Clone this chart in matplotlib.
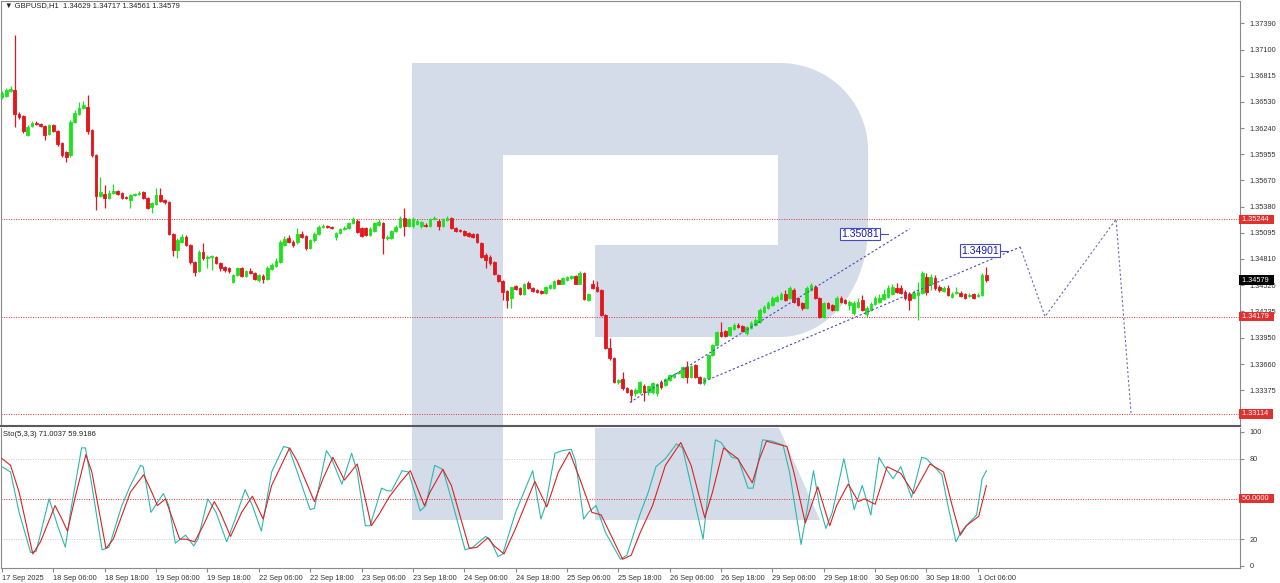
import numpy as np
import matplotlib
matplotlib.use("Agg")
import matplotlib.pyplot as plt
import matplotlib.transforms as mtransforms
from matplotlib.patches import Polygon, Rectangle

# ---------------------------------------------------------------------------
# GBPUSD H1 candles (bar 0 = 17 Sep 18:00)
# ---------------------------------------------------------------------------
opens = [
    1.3658, 1.3659, 1.3665, 1.3666, 1.3639, 1.3637, 1.3617, 1.3626, 1.3630, 1.3629,
    1.3626, 1.3618, 1.3627, 1.3621, 1.3608, 1.3598, 1.3595, 1.3631, 1.3639, 1.3646,
    1.3647, 1.3622, 1.3595, 1.3550, 1.3552, 1.3548, 1.3553, 1.3555, 1.3553, 1.3549,
    1.3545, 1.3551, 1.3552, 1.3554, 1.3548, 1.3538, 1.3541, 1.3551, 1.3545, 1.3543,
    1.3508, 1.3491, 1.3499, 1.3505, 1.3496, 1.3478, 1.3468, 1.3489, 1.3482, 1.3483,
    1.3483, 1.3477, 1.3472, 1.3471, 1.3456, 1.3463, 1.3471, 1.3462, 1.3468, 1.3466,
    1.3458, 1.3462, 1.3459, 1.3470, 1.3473, 1.3478, 1.3496, 1.3504, 1.3499, 1.3499,
    1.3508, 1.3506, 1.3493, 1.3502, 1.3508, 1.3516, 1.3517, 1.3516, 1.3505, 1.3509,
    1.3514, 1.3515, 1.3520, 1.3522, 1.3515, 1.3515, 1.3507, 1.3511, 1.3518, 1.3520,
    1.3504, 1.3504, 1.3512, 1.3516, 1.3526, 1.3517, 1.3517, 1.3519, 1.3517, 1.3518,
    1.3517, 1.3525, 1.3522, 1.3517, 1.3524, 1.3526, 1.3515, 1.3513, 1.3512, 1.3509,
    1.3508, 1.3508, 1.3498, 1.3485, 1.3483, 1.3478, 1.3463, 1.3457, 1.3446, 1.3438,
    1.3451, 1.3449, 1.3443, 1.3455, 1.3449, 1.3447, 1.3446, 1.3444, 1.3449, 1.3449,
    1.3458, 1.3454, 1.3458, 1.3460, 1.3462, 1.3454, 1.3466, 1.3436, 1.3453, 1.3450,
    1.3447, 1.3420, 1.3383, 1.3373, 1.3346, 1.3350, 1.3340, 1.3338, 1.3334, 1.3335,
    1.3342, 1.3335, 1.3335, 1.3334, 1.3346, 1.3343, 1.3348, 1.3352, 1.3356, 1.3352,
    1.3363, 1.3352, 1.3365, 1.3352, 1.3345, 1.3351, 1.3376, 1.3387, 1.3401, 1.3402,
    1.3398, 1.3404, 1.3409, 1.3408, 1.3400, 1.3405, 1.3409, 1.3412, 1.3423, 1.3427,
    1.3431, 1.3435, 1.3437, 1.3443, 1.3438, 1.3447, 1.3438, 1.3433, 1.3427, 1.3447,
    1.3450, 1.3438, 1.3417, 1.3433, 1.3431, 1.3425, 1.3438, 1.3436, 1.3431, 1.3422,
    1.3428, 1.3436, 1.3421, 1.3425, 1.3432, 1.3434, 1.3437, 1.3439, 1.3443, 1.3449,
    1.3449, 1.3445, 1.3443, 1.3438, 1.3441, 1.3444, 1.3461, 1.3453, 1.3460, 1.3450,
    1.3446, 1.3449, 1.3439, 1.3444, 1.3444, 1.3443, 1.3440, 1.3443, 1.3440, 1.3441,
    1.34629,
]
highs = [
    1.3665, 1.3668, 1.3670, 1.3726, 1.3642, 1.3638, 1.3627, 1.3632, 1.3632, 1.3630,
    1.3627, 1.3629, 1.3629, 1.3622, 1.3609, 1.3599, 1.3633, 1.3644, 1.3653, 1.3654,
    1.3660, 1.3623, 1.3596, 1.3571, 1.3562, 1.3556, 1.3563, 1.3556, 1.3554, 1.3550,
    1.3552, 1.3553, 1.3555, 1.3555, 1.3549, 1.3543, 1.3558, 1.3558, 1.3546, 1.3544,
    1.3509, 1.3504, 1.3508, 1.3507, 1.3497, 1.3479, 1.3491, 1.3498, 1.3485, 1.3485,
    1.3484, 1.3478, 1.3473, 1.3472, 1.3464, 1.3472, 1.3472, 1.3469, 1.3471, 1.3467,
    1.3464, 1.3464, 1.3473, 1.3477, 1.3482, 1.3502, 1.3506, 1.3507, 1.3502, 1.3515,
    1.3512, 1.3507, 1.3503, 1.3510, 1.3518, 1.3519, 1.3518, 1.3517, 1.3510, 1.3515,
    1.3517, 1.3521, 1.3527, 1.3525, 1.3516, 1.3516, 1.3516, 1.3521, 1.3525, 1.3521,
    1.3507, 1.3513, 1.3518, 1.3528, 1.3537, 1.3526, 1.3527, 1.3525, 1.3522, 1.3520,
    1.3526, 1.3528, 1.3525, 1.3526, 1.3528, 1.3527, 1.3516, 1.3514, 1.3513, 1.3510,
    1.3509, 1.3509, 1.3499, 1.3487, 1.3485, 1.3479, 1.3465, 1.3458, 1.3447, 1.3450,
    1.3452, 1.3450, 1.3455, 1.3457, 1.3450, 1.3448, 1.3447, 1.3451, 1.3453, 1.3458,
    1.3459, 1.3461, 1.3462, 1.3463, 1.3463, 1.3468, 1.3467, 1.3444, 1.3458, 1.3457,
    1.3448, 1.3421, 1.3394, 1.3374, 1.3350, 1.3357, 1.3341, 1.3339, 1.3340, 1.3347,
    1.3344, 1.3342, 1.3346, 1.3345, 1.3348, 1.3351, 1.3355, 1.3356, 1.3357, 1.3364,
    1.3369, 1.3365, 1.3366, 1.3353, 1.3352, 1.3377, 1.3388, 1.3402, 1.3412, 1.3403,
    1.3407, 1.3411, 1.3411, 1.3409, 1.3408, 1.3413, 1.3416, 1.3427, 1.3431, 1.3435,
    1.3440, 1.3441, 1.3445, 1.3447, 1.3451, 1.3449, 1.3439, 1.3434, 1.3451, 1.3455,
    1.3452, 1.3439, 1.3434, 1.3434, 1.3432, 1.3440, 1.3440, 1.3437, 1.3436, 1.3435,
    1.3438, 1.3441, 1.3429, 1.3434, 1.3440, 1.3443, 1.3448, 1.3452, 1.3453, 1.3455,
    1.3452, 1.3447, 1.3445, 1.3447, 1.3456, 1.3468, 1.3466, 1.3464, 1.3463, 1.3452,
    1.3451, 1.3452, 1.3445, 1.3450, 1.3446, 1.3444, 1.3444, 1.3444, 1.3444, 1.3466,
    1.34717,
]
lows = [
    1.3656, 1.3658, 1.3664, 1.3625, 1.3634, 1.3619, 1.3615, 1.3625, 1.3627, 1.3625,
    1.3611, 1.3617, 1.3620, 1.3604, 1.3592, 1.3587, 1.3592, 1.3630, 1.3638, 1.3645,
    1.3618, 1.3592, 1.3535, 1.3549, 1.3537, 1.3547, 1.3552, 1.3551, 1.3547, 1.3547,
    1.3537, 1.3550, 1.3551, 1.3547, 1.3536, 1.3531, 1.3540, 1.3543, 1.3541, 1.3507,
    1.3484, 1.3482, 1.3498, 1.3495, 1.3475, 1.3462, 1.3467, 1.3480, 1.3471, 1.3469,
    1.3475, 1.3468, 1.3467, 1.3466, 1.3455, 1.3462, 1.3461, 1.3461, 1.3464, 1.3458,
    1.3456, 1.3455, 1.3458, 1.3469, 1.3472, 1.3477, 1.3495, 1.3498, 1.3494, 1.3497,
    1.3504, 1.3491, 1.3492, 1.3500, 1.3507, 1.3515, 1.3515, 1.3514, 1.3502, 1.3508,
    1.3513, 1.3514, 1.3519, 1.3509, 1.3505, 1.3506, 1.3506, 1.3510, 1.3517, 1.3486,
    1.3502, 1.3503, 1.3510, 1.3515, 1.3506, 1.3516, 1.3515, 1.3518, 1.3515, 1.3516,
    1.3516, 1.3524, 1.3513, 1.3516, 1.3522, 1.3514, 1.3510, 1.3510, 1.3506, 1.3505,
    1.3504, 1.3498, 1.3482, 1.3471, 1.3474, 1.3463, 1.3456, 1.3436, 1.3427, 1.3427,
    1.3447, 1.3442, 1.3442, 1.3448, 1.3445, 1.3444, 1.3443, 1.3443, 1.3448, 1.3448,
    1.3453, 1.3453, 1.3457, 1.3459, 1.3453, 1.3453, 1.3436, 1.3435, 1.3448, 1.3445,
    1.3418, 1.3382, 1.3370, 1.3345, 1.3344, 1.3338, 1.3334, 1.3324, 1.3331, 1.3333,
    1.3326, 1.3332, 1.3333, 1.3331, 1.3339, 1.3342, 1.3347, 1.3351, 1.3355, 1.3351,
    1.3345, 1.3351, 1.3351, 1.3344, 1.3343, 1.3350, 1.3375, 1.3386, 1.3396, 1.3396,
    1.3397, 1.3403, 1.3405, 1.3401, 1.3398, 1.3404, 1.3408, 1.3411, 1.3422, 1.3426,
    1.3429, 1.3434, 1.3436, 1.3435, 1.3437, 1.3433, 1.3429, 1.3425, 1.3426, 1.3446,
    1.3437, 1.3416, 1.3416, 1.3426, 1.3424, 1.3424, 1.3433, 1.3432, 1.3425, 1.3420,
    1.3427, 1.3424, 1.3417, 1.3424, 1.3431, 1.3433, 1.3436, 1.3438, 1.3442, 1.3444,
    1.3443, 1.3436, 1.3425, 1.3437, 1.3414, 1.3443, 1.3442, 1.3447, 1.3447, 1.3445,
    1.3445, 1.3440, 1.3438, 1.3443, 1.3439, 1.3437, 1.3439, 1.3437, 1.3439, 1.3440,
    1.34561,
]
closes = [
    1.3662, 1.3666, 1.3667, 1.3639, 1.3636, 1.3621, 1.3625, 1.3630, 1.3629, 1.3626,
    1.3617, 1.3627, 1.3621, 1.3607, 1.3595, 1.3592, 1.3631, 1.3641, 1.3646, 1.3649,
    1.3621, 1.3595, 1.3550, 1.3554, 1.3548, 1.3553, 1.3555, 1.3552, 1.3548, 1.3548,
    1.3551, 1.3552, 1.3553, 1.3548, 1.3537, 1.3542, 1.3551, 1.3544, 1.3543, 1.3508,
    1.3491, 1.3502, 1.3505, 1.3496, 1.3478, 1.3467, 1.3489, 1.3482, 1.3483, 1.3484,
    1.3477, 1.3471, 1.3469, 1.3468, 1.3463, 1.3471, 1.3462, 1.3468, 1.3466, 1.3459,
    1.3463, 1.3459, 1.3471, 1.3474, 1.3479, 1.3499, 1.3503, 1.3499, 1.3496, 1.3508,
    1.3505, 1.3493, 1.3502, 1.3508, 1.3516, 1.3517, 1.3516, 1.3515, 1.3509, 1.3514,
    1.3515, 1.3520, 1.3525, 1.3510, 1.3506, 1.3507, 1.3514, 1.3520, 1.3521, 1.3504,
    1.3505, 1.3512, 1.3516, 1.3526, 1.3517, 1.3525, 1.3525, 1.3522, 1.3521, 1.3517,
    1.3525, 1.3526, 1.3517, 1.3525, 1.3526, 1.3515, 1.3512, 1.3512, 1.3507, 1.3506,
    1.3505, 1.3499, 1.3483, 1.3480, 1.3477, 1.3464, 1.3457, 1.3445, 1.3436, 1.3450,
    1.3448, 1.3443, 1.3454, 1.3449, 1.3446, 1.3445, 1.3444, 1.3450, 1.3452, 1.3457,
    1.3454, 1.3460, 1.3461, 1.3462, 1.3454, 1.3466, 1.3437, 1.3443, 1.3449, 1.3446,
    1.3420, 1.3383, 1.3373, 1.3346, 1.3348, 1.3340, 1.3335, 1.3332, 1.3338, 1.3346,
    1.3335, 1.3342, 1.3345, 1.3344, 1.3341, 1.3350, 1.3354, 1.3355, 1.3357, 1.3363,
    1.3352, 1.3364, 1.3352, 1.3345, 1.3351, 1.3376, 1.3387, 1.3401, 1.3397, 1.3397,
    1.3406, 1.3409, 1.3406, 1.3402, 1.3406, 1.3411, 1.3414, 1.3425, 1.3428, 1.3433,
    1.3438, 1.3439, 1.3443, 1.3436, 1.3449, 1.3434, 1.3431, 1.3427, 1.3449, 1.3452,
    1.3438, 1.3417, 1.3433, 1.3427, 1.3425, 1.3438, 1.3434, 1.3433, 1.3434, 1.3433,
    1.3434, 1.3425, 1.3427, 1.3432, 1.3438, 1.3438, 1.3443, 1.3449, 1.3450, 1.3445,
    1.3444, 1.3438, 1.3436, 1.3444, 1.3445, 1.3466, 1.3445, 1.3461, 1.3449, 1.3447,
    1.3449, 1.3441, 1.3443, 1.3445, 1.3440, 1.3438, 1.3441, 1.3438, 1.3441, 1.3463,
    1.34579,
]
assert len(opens) == len(highs) == len(lows) == len(closes) == 231

# Stochastic(5,3,3): %K (main) and %D (signal), turning points by bar index
k_bars = [0, 2, 4, 6.7, 8, 11, 13, 14.8, 16, 18.6, 19.5, 21, 23.4, 25, 28, 30, 32.4, 33,
          34.8, 37.7, 39, 40.5, 42.9, 44.8, 45.8, 48.1, 50, 52.5, 54.5, 56.8, 58.5, 60.6,
          63, 65.8, 67, 69, 72, 73, 75.8, 77, 79.4, 81.7, 83, 84.9, 86, 88.7, 90, 91, 93.5,
          95, 97.7, 99, 101.1, 103, 105, 108.2, 110, 113, 114, 115.9, 117, 120, 124, 125.9,
          127, 129.2, 131, 133, 134, 135.9, 137, 138.8, 141, 144.5, 146, 149, 151, 152.8,
          155, 157.6, 159, 161, 163.8, 165, 166.7, 168, 170.5, 172, 174.3, 175.5, 177.7,
          180, 182.5, 184, 186.7, 188, 189.6, 191, 192.5, 194, 196.7, 198, 199.1, 201, 203,
          204.9, 206, 208.2, 210, 212.5, 214.9, 216, 219.6, 221, 222.9, 224, 225.3, 227.7,
          229, 230]
k_vals = [74, 70, 40, 10, 11, 50, 30, 14, 40, 88, 88, 60, 12, 14, 45, 60, 75, 74,
          40, 54, 45, 17, 23, 15, 20, 50, 40, 18, 35, 57, 45, 26,
          70, 89, 88, 70, 42, 43, 86, 80, 61, 84, 70, 30, 30, 58, 56, 56, 71,
          70, 41, 45, 75, 72, 50, 12, 14, 22, 20, 7, 9, 40, 71, 35,
          45, 84, 86, 87, 78, 35, 40, 45, 25, 5, 8, 38, 55, 74,
          80, 91, 88, 60, 20, 55, 94, 92, 81, 80, 58, 58, 94,
          93, 90, 70, 16, 40, 71, 45, 28, 40, 80, 60, 42, 60, 38,
          81, 75, 65, 74, 51, 81, 80, 68, 45, 18, 25, 30, 38,
          65, 71.0037]
d_bars = [0, 2, 4, 7.2, 9, 12.4, 14, 15.3, 17, 19.6, 21, 24.3, 26, 30, 33.1, 35, 36.3,
          38.2, 41.5, 43, 45, 47, 49.6, 51, 53.4, 56, 58.5, 61, 63, 67.2, 69, 73, 75,
          77.3, 80, 83, 86.3, 88, 90.6, 93, 95.4, 98.7, 100, 103, 105, 109.2, 111, 113.5,
          115, 117.3, 120, 124.5, 127.3, 130, 132.6, 135, 137.8, 140, 145, 147, 149, 152,
          155, 158.6, 161, 164.2, 166, 168.6, 171.9, 175.3, 177, 178.6, 181, 183.4, 185,
          187.7, 190.6, 193.4, 195, 197.7, 200.1, 201.5, 204, 206.8, 210, 213, 216.8, 220,
          222, 223.9, 225.3, 228.2, 230]
d_vals = [80, 75, 55, 9, 18, 45, 35, 26, 50, 83, 70, 13, 20, 55, 68, 55, 45,
          50, 20, 20, 18, 30, 48, 40, 22, 40, 52, 35, 60, 88, 78, 48, 65,
          81, 64, 76, 30, 38, 52, 62, 71, 45, 55, 72, 60, 13, 14, 21,
          15, 9, 28, 63, 44, 70, 85, 65, 40, 38, 5, 8, 24, 45,
          75, 92, 75, 36, 55, 88, 80, 62, 80, 93, 91, 89, 70,
          32, 59, 30, 45, 61, 48, 50, 46, 74, 69, 54, 76, 70,
          45, 23, 30, 37, 59.9186]

time_labels = ["17 Sep 2025", "18 Sep 06:00", "18 Sep 18:00", "19 Sep 06:00",
               "19 Sep 18:00", "22 Sep 06:00", "22 Sep 18:00", "23 Sep 06:00",
               "23 Sep 18:00", "24 Sep 06:00", "24 Sep 18:00", "25 Sep 06:00",
               "25 Sep 18:00", "26 Sep 06:00", "26 Sep 18:00", "29 Sep 06:00",
               "29 Sep 18:00", "30 Sep 06:00", "30 Sep 18:00", "1 Oct 06:00"]
time_label_bars = [0, 12, 24, 36, 48, 60, 72, 84, 96, 108, 120, 132, 144, 156,
                   168, 180, 192, 204, 216, 228]

price_ticks = [1.37390, 1.37100, 1.36815, 1.36530, 1.36240, 1.35955, 1.35670,
               1.35380, 1.35095, 1.34810, 1.34520, 1.34235, 1.33950, 1.33660, 1.33375]
levels = [1.35244, 1.34179, 1.33114]
last_price = 1.34579

# forecast drawing (bar index, price)
chan_lo_bars, chan_lo_px = [146.7, 212.1], [1.3324, 1.3514]
chan_hi_bars, chan_hi_px = [163.1, 237.9], [1.3345, 1.3494]
path_bars = [237.9, 243.7, 260.3, 263.8]
path_px = [1.3494, 1.34179, 1.35244, 1.33114]
tag_bars = [205.2, 233.2]
tag_px = [1.35081, 1.34901]

# ---------------------------------------------------------------------------
W, H = 1280, 583
BULL = "#1ee21e"
BEAR = "#e3161c"
LVL = "#e03030"
FC = "#4848c0"
WM = "#d3dce8"
FONT = ["Liberation Sans", "DejaVu Sans"]
plt.rcParams["font.family"] = FONT

fig = plt.figure(figsize=(W / 100, H / 100), dpi=100, facecolor="white")


def fx(x):
    return x / W


def fy(y):
    return 1 - y / H


ax = fig.add_axes([fx(1), fy(426), fx(1240) - fx(1), fy(1) - fy(426)])
ax2 = fig.add_axes([fx(1), fy(568), fx(1240) - fx(1), fy(427.5) - fy(568)])
for a in (ax, ax2):
    a.set_facecolor("none")
    for s in a.spines.values():
        s.set_color("#8a8a8a")
        s.set_linewidth(0.8)
ax.spines["bottom"].set_color("#5a5a5a")
ax.spines["bottom"].set_linewidth(1.5)
ax2.spines["top"].set_visible(False)

# watermark logo in figure pixel space
px = mtransforms.Affine2D().scale(1 / W, -1 / H).translate(0, 1) + fig.transFigure
t = np.linspace(0, np.pi / 2, 40)
top_arc = [(780 + 88 * np.sin(a), 150 - 87 * np.cos(a)) for a in t]
bot_arc = [(780 + 88 * np.cos(a), 227 + 110 * np.sin(a)) for a in t]
bowl = [(503, 63)] + top_arc + bot_arc + [(595, 337), (595, 245), (778, 245),
                                          (778, 155), (503, 155)]
for patch in (Rectangle((412, 63), 91, 457), Polygon(bowl, closed=True),
              Polygon([(595, 428), (779, 428), (820, 520), (595, 520)], closed=True)):
    patch.set_transform(px)
    patch.set_facecolor(WM)
    patch.set_edgecolor("none")
    patch.set_zorder(-1)
    fig.add_artist(patch)

# candles
o = np.array(opens)
c = np.array(closes)
x = np.arange(len(o))
cols = [BULL if cc >= oo else BEAR for oo, cc in zip(o, c)]
ax.vlines(x, lows, highs, colors=cols, linewidth=0.9, zorder=3)
ax.bar(x, np.abs(c - o), bottom=np.minimum(o, c), width=0.62, color=cols,
       edgecolor=cols, linewidth=0.6, zorder=4)

ax.set_xlim(-0.23, 289.25)
ax.set_ylim(1.32982, 1.37631)

for lv in levels:
    ax.axhline(lv, color=LVL, linewidth=0.7, linestyle=(0, (1, 1.5)), zorder=2)

ax.plot(chan_lo_bars, chan_lo_px, color=FC, lw=0.8, ls=(0, (2, 2)), zorder=5)
ax.plot(chan_hi_bars, chan_hi_px, color=FC, lw=0.8, ls=(0, (2, 2)), zorder=5)
ax.plot(path_bars, path_px, color="#6a6ab4", lw=0.8, ls=(0, (2, 2)), zorder=5)
for tb, tp in zip(tag_bars, tag_px):
    ax.plot([tb, tb + 1.9], [tp, tp], color=FC, lw=0.8, zorder=5)
    ax.text(tb - 0.3, tp, f"{tp:.5f}", ha="right", va="center", fontsize=7.5,
            color="#1a1ab0", zorder=6,
            bbox=dict(boxstyle="square,pad=0.12", fc="white", ec=FC, lw=0.8))

ax.yaxis.tick_right()
ax.set_yticks(price_ticks)
ax.set_yticklabels([f"{p:.5f}" for p in price_ticks])
ax.tick_params(axis="y", labelsize=5.3, length=3, color="#8a8a8a", pad=4,
               labelcolor="#333333")
ax.set_xticks([])

# price tags on the right scale (they sit over the scale labels, as in MT4)
bl = mtransforms.blended_transform_factory(ax.transAxes, ax.transData)
for lv, fc in [(levels[0], LVL), (levels[1], LVL), (levels[2], LVL), (last_price, "black")]:
    ax.text(1.0, lv, f" {lv:.5f}  ", transform=bl, ha="left", va="center",
            fontsize=5.3, color="white", clip_on=False, zorder=7,
            bbox=dict(boxstyle="square,pad=0.15", fc=fc, ec="none"))

fig.text(fx(5), fy(6), "▼ GBPUSD,H1  1.34629 1.34717 1.34561 1.34579",
         fontsize=5.5, va="center", ha="left", color="#222222", family=FONT)

# stochastic panel
ax2.plot(k_bars, k_vals, color="#2ab8b0", lw=0.8, zorder=3)
ax2.plot(d_bars, d_vals, color="#e02020", lw=0.8, zorder=4)
for lv, colr in [(80, "#c8c8c8"), (20, "#c8c8c8"), (50, LVL)]:
    ax2.axhline(lv, color=colr, lw=0.7, ls=(0, (1, 1.5)), zorder=2)
ax2.set_xlim(-0.23, 289.25)
ax2.set_ylim(-1.5, 103.2)
ax2.yaxis.tick_right()
ax2.set_yticks([100, 80, 20, 0])
ax2.tick_params(axis="y", labelsize=5.3, length=3, color="#8a8a8a", pad=4,
                labelcolor="#333333")
bl2 = mtransforms.blended_transform_factory(ax2.transAxes, ax2.transData)
ax2.text(1.0, 50, " 50.0000  ", transform=bl2, ha="left", va="center",
         fontsize=5.3, color="white", clip_on=False,
         bbox=dict(boxstyle="square,pad=0.15", fc=LVL, ec="none"))
ax2.set_xticks(time_label_bars)
ax2.set_xticklabels(time_labels, ha="left")
ax2.tick_params(axis="x", labelsize=5.3, length=3, color="#8a8a8a", pad=2,
                labelcolor="#333333")
fig.text(fx(3), fy(434), "Sto(5,3,3) 71.0037 59.9186", fontsize=5.5,
         va="center", ha="left", color="#222222")

fig.savefig("out.png", dpi=100, facecolor="white")
